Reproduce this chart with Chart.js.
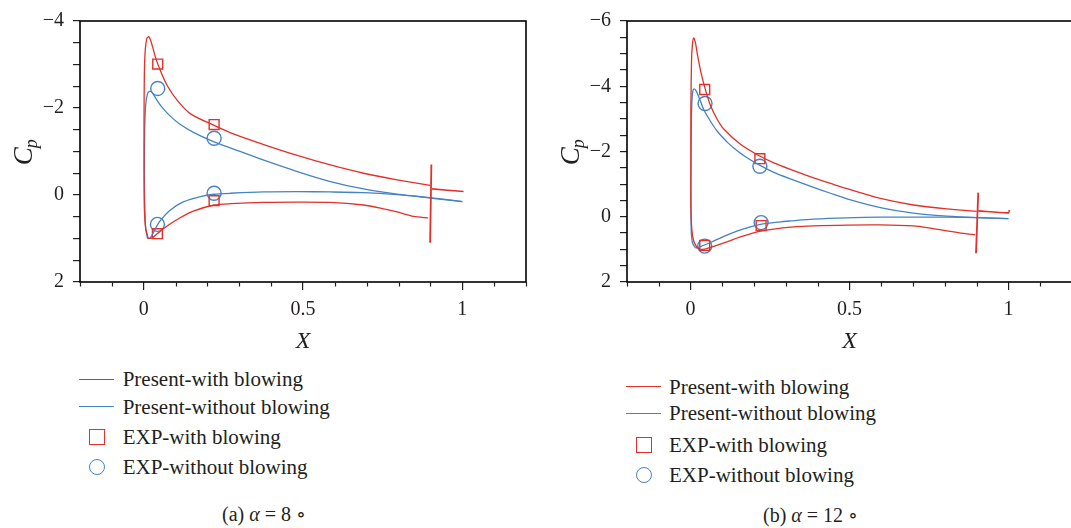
<!DOCTYPE html>
<html>
<head>
<meta charset="utf-8">
<script src="https://cdn.jsdelivr.net/npm/chart.js@4/dist/chart.umd.min.js"></script>
<style>
  body { margin: 0; width: 1071px; height: 528px; overflow: hidden; position: relative; background: #fff; font-family: "Liberation Serif", "DejaVu Serif", serif; color: #231f20; }
  canvas { position: absolute; top: 0; }
  .txt { position: absolute; white-space: nowrap; font-size: 21px; line-height: 20px; }
  .cap { position: absolute; white-space: nowrap; font-size: 20px; line-height: 20px; }
  .sym { position: absolute; box-sizing: border-box; }
</style>
</head>
<body>
<canvas id="chart8" width="540" height="360" style="left:0"></canvas>
<canvas id="chart12" width="560" height="360" style="left:530px"></canvas>

<script>
// ---- data (alpha = 8) ----
const a8BlowUpper = [[0.014,1.0],[0.006,0.75],[0.002,0.3],[0.001,-0.6],[0.001,-1.7],[0.002,-2.8],[0.005,-3.35],[0.010,-3.6],[0.016,-3.64],[0.022,-3.55],[0.028,-3.40],[0.038,-3.14],[0.054,-2.83],[0.075,-2.5],[0.106,-2.17],[0.148,-1.86],[0.221,-1.60],[0.273,-1.43],[0.377,-1.16],[0.482,-0.91],[0.586,-0.69],[0.690,-0.50],[0.795,-0.35],[0.899,-0.22]]
const a8BlowLower = [[0.014,1.0],[0.025,0.99],[0.044,0.88],[0.070,0.73],[0.113,0.53],[0.156,0.37],[0.221,0.23],[0.273,0.20],[0.377,0.17],[0.482,0.163],[0.586,0.17],[0.690,0.23],[0.743,0.30],[0.795,0.39],[0.847,0.49],[0.893,0.527]]
const a8BlowTail = [[0.905,-0.14],[1.004,-0.08]]
const a8BlowSlot = [[0.903,-0.70],[0.899,1.10]]
const a8NoBlowUpper = [[0.012,1.0],[0.006,0.76],[0.003,0.17],[0.002,-0.58],[0.003,-1.47],[0.006,-2.06],[0.012,-2.33],[0.019,-2.38],[0.027,-2.35],[0.038,-2.22],[0.054,-2.05],[0.081,-1.83],[0.113,-1.63],[0.156,-1.44],[0.221,-1.22],[0.273,-1.08],[0.377,-0.80],[0.482,-0.54],[0.586,-0.31],[0.690,-0.14],[0.795,-0.02],[0.899,0.07],[1.0,0.15]]
const a8NoBlowLower = [[0.012,1.0],[0.020,0.99],[0.032,0.84],[0.049,0.62],[0.081,0.36],[0.124,0.16],[0.178,0.035],[0.221,-0.017],[0.273,-0.04],[0.377,-0.07],[0.482,-0.078],[0.586,-0.07],[0.690,-0.054],[0.795,-0.01],[0.899,0.058],[1.0,0.15]]
const a8ExpBlow = [[0.044,-3.01],[0.221,-1.62],[0.221,0.13],[0.043,0.89]]
const a8ExpNoBlow = [[0.044,-2.45],[0.221,-1.305],[0.221,-0.04],[0.043,0.675]]

// ---- data (alpha = 12) ----
const a12BlowUpper = [[0.022,0.97],[0.010,0.75],[0.004,0.4],[0.001,-0.4],[0.001,-1.8],[0.001,-3.3],[0.003,-4.8],[0.006,-5.3],[0.010,-5.48],[0.015,-5.35],[0.021,-5.0],[0.032,-4.45],[0.048,-3.85],[0.063,-3.40],[0.084,-2.98],[0.105,-2.68],[0.157,-2.22],[0.210,-1.90],[0.262,-1.65],[0.314,-1.45],[0.387,-1.19],[0.45,-0.99],[0.492,-0.86],[0.597,-0.56],[0.701,-0.36],[0.806,-0.24],[0.900,-0.165]]
const a12BlowLower = [[0.022,0.97],[0.032,1.0],[0.045,0.99],[0.063,0.94],[0.105,0.80],[0.157,0.62],[0.220,0.44],[0.283,0.35],[0.314,0.32],[0.387,0.28],[0.492,0.255],[0.597,0.25],[0.701,0.28],[0.75,0.34],[0.806,0.43],[0.86,0.51],[0.895,0.55]]
const a12BlowTail = [[0.905,-0.18],[1.0,-0.12],[1.003,-0.21]]
const a12BlowSlot = [[0.905,-0.74],[0.898,1.12]]
const a12NoBlowUpper = [[0.015,0.95],[0.006,0.8],[0.002,0.4],[0.001,-1.0],[0.002,-2.5],[0.004,-3.5],[0.007,-3.85],[0.011,-3.92],[0.018,-3.85],[0.030,-3.57],[0.042,-3.27],[0.063,-2.92],[0.084,-2.62],[0.116,-2.28],[0.137,-2.10],[0.168,-1.87],[0.210,-1.62],[0.262,-1.36],[0.314,-1.16],[0.387,-0.90],[0.44,-0.72],[0.492,-0.55],[0.597,-0.28],[0.701,-0.11],[0.806,-0.02],[0.900,0.026],[1.0,0.055]]
const a12NoBlowLower = [[0.015,0.95],[0.022,0.95],[0.035,0.9],[0.063,0.79],[0.105,0.60],[0.157,0.40],[0.220,0.234],[0.283,0.154],[0.314,0.128],[0.387,0.074],[0.492,0.034],[0.597,0.014],[0.701,0.012],[0.806,0.014],[0.900,0.026],[1.0,0.055]]
const a12ExpBlow = [[0.0445,-3.9],[0.218,-1.78],[0.222,0.27],[0.0445,0.88]]
const a12ExpNoBlow = [[0.0455,-3.47],[0.218,-1.55],[0.222,0.18],[0.0445,0.90]]

// ---- axes / labels ----
const xLabelTicks = [0, 0.5, 1]
const yLabelTicks8 = [-4, -2, 0, 2]
const yLabelTicks12 = [-6, -4, -2, 0, 2]
const legendLabels = ["Present-with blowing", "Present-without blowing", "EXP-with blowing", "EXP-without blowing"]

const RED = '#e2302a'
const BLUE = '#4583c4'
const INK = '#231f20'
const SERIF = '"Liberation Serif", "DejaVu Serif", serif'

function toXY(arr) {
  return arr.map(p => ({x: p[0], y: p[1]}))
}

function line(arr, color, w) {
  return {data: toXY(arr), showLine: true, borderColor: color, borderWidth: w || 1.3,
    pointRadius: 0, tension: 0.25, fill: false}
}

function marks(arr, color, style) {
  return {data: toXY(arr), showLine: false, pointStyle: style, pointRadius: 7,
    pointBorderColor: color, pointBackgroundColor: 'rgba(0,0,0,0)', pointBorderWidth: 1.4}
}

function isMajorX(v) {
  return xLabelTicks.some(t => Math.abs(t - v) < 1e-6)
}

function minusFmt(v) {
  return v < 0 ? '\u2212' + Math.abs(v) : String(v)
}

// frame, minor x ticks and axis titles
const framePlugin = {
  id: 'frame',
  afterDraw(chart) {
    const ctx = chart.ctx
    const a = chart.chartArea
    const xs = chart.scales.x
    ctx.save()
    ctx.strokeStyle = '#000'
    ctx.lineWidth = 1.6
    ctx.strokeRect(a.left, a.top, a.right - a.left, a.bottom - a.top)

    ctx.lineWidth = 1.2
    ctx.strokeStyle = INK
    xs.ticks.forEach(t => {
      if (isMajorX(t.value)) return
      const px = Math.round(xs.getPixelForValue(t.value)) + 0.5
      ctx.beginPath()
      ctx.moveTo(px, a.bottom)
      ctx.lineTo(px, a.bottom + 4.5)
      ctx.stroke()
    })

    ctx.fillStyle = INK
    ctx.textAlign = 'center'
    ctx.textBaseline = 'middle'
    ctx.font = 'italic 24px ' + SERIF
    ctx.fillText('X', (a.left + a.right) / 2, a.bottom + 60)

    ctx.translate(a.left - 57, (a.top + a.bottom) / 2)
    ctx.rotate(-Math.PI / 2)
    ctx.textAlign = 'left'
    ctx.textBaseline = 'alphabetic'
    ctx.font = 'italic 27px ' + SERIF
    const cw = ctx.measureText('C').width
    const pw = ctx.measureText('p').width * 0.7
    const x0 = -(cw + pw) / 2
    ctx.fillText('C', x0, 9)
    ctx.font = 'italic 18px ' + SERIF
    ctx.fillText('p', x0 + cw - 1, 14)
    ctx.restore()
  }
}

function makeChart(id, sets, yMin, yMax, yLabels, yWidth, padRight) {
  const datasets = [
    line(sets.blowUpper, RED), line(sets.blowLower, RED), line(sets.blowTail, RED, 1.6), line(sets.blowSlot, RED, 1.8),
    line(sets.noBlowUpper, BLUE), line(sets.noBlowLower, BLUE),
    marks(sets.expBlow, RED, 'rect'), marks(sets.expNoBlow, BLUE, 'circle')
  ]
  return new Chart(document.getElementById(id), {
    type: 'scatter',
    data: {datasets: datasets},
    plugins: [framePlugin],
    options: {
      responsive: false,
      animation: false,
      devicePixelRatio: 1,
      layout: {padding: {top: 13, right: padRight, bottom: 0, left: 0}},
      plugins: {legend: {display: false}, tooltip: {enabled: false}},
      scales: {
        x: {
          type: 'linear', min: -0.2, max: 1.2,
          border: {display: false},
          grid: {drawOnChartArea: false, tickLength: 8, lineWidth: 1.2,
            color: c => (c.tick && isMajorX(c.tick.value)) ? INK : 'rgba(0,0,0,0)'},
          ticks: {stepSize: 0.1, autoSkip: false, maxRotation: 0, padding: 8, color: INK,
            font: {family: SERIF, size: 20},
            callback: v => isMajorX(v) ? String(Math.round(v * 10) / 10) : ''},
          afterFit: s => { s.height = 78 }
        },
        y: {
          type: 'linear', min: yMin, max: yMax, reverse: true,
          border: {display: false},
          grid: {drawOnChartArea: false, tickLength: 7, lineWidth: 1.2, color: INK},
          ticks: {stepSize: 0.5, autoSkip: false, padding: 9, color: INK,
            font: {family: SERIF, size: 20},
            callback: v => yLabels.includes(v) ? minusFmt(v) : ''},
          afterFit: s => { s.width = yWidth }
        }
      }
    }
  })
}

makeChart('chart8', {
  blowUpper: a8BlowUpper, blowLower: a8BlowLower, blowTail: a8BlowTail, blowSlot: a8BlowSlot,
  noBlowUpper: a8NoBlowUpper, noBlowLower: a8NoBlowLower, expBlow: a8ExpBlow, expNoBlow: a8ExpNoBlow
}, -4, 2, yLabelTicks8, 80, 14)

makeChart('chart12', {
  blowUpper: a12BlowUpper, blowLower: a12BlowLower, blowTail: a12BlowTail, blowSlot: a12BlowSlot,
  noBlowUpper: a12NoBlowUpper, noBlowLower: a12NoBlowLower, expBlow: a12ExpBlow, expNoBlow: a12ExpNoBlow
}, -6, 2, yLabelTicks12, 97, 18)

// ---- legends and captions (html) ----
function addLegend(lineLeft, symCenter, textLeft, rows) {
  const styles = ['line', 'line', 'rect', 'circle']
  const colors = [RED, BLUE, RED, BLUE]
  rows.forEach((y, i) => {
    const s = document.createElement('div')
    s.className = 'sym'
    if (styles[i] === 'line') {
      s.style.left = lineLeft + 'px'
      s.style.top = (y - 0.7) + 'px'
      s.style.width = '35px'
      s.style.height = '1.4px'
      s.style.background = colors[i]
    } else {
      s.style.left = (symCenter - 8) + 'px'
      s.style.top = (y - 8) + 'px'
      s.style.width = '16px'
      s.style.height = '16px'
      s.style.border = '1.5px solid ' + colors[i]
      if (styles[i] === 'circle') s.style.borderRadius = '50%'
    }
    document.body.appendChild(s)

    const t = document.createElement('div')
    t.className = 'txt'
    t.style.left = textLeft + 'px'
    t.style.top = (y - 10) + 'px'
    t.textContent = legendLabels[i]
    document.body.appendChild(t)
  })
}

function addCaption(left, y, letter, angle) {
  const c = document.createElement('div')
  c.className = 'cap'
  c.style.left = left + 'px'
  c.style.top = (y - 10) + 'px'
  c.innerHTML = '(' + letter + ') <i>\u03b1</i> = ' + angle + ' \u2218'
  document.body.appendChild(c)
}

addLegend(79, 96.7, 122.7, [379.3, 406.7, 437.3, 467.3])
addLegend(626, 644, 669, [386.7, 413.3, 445, 475])
addCaption(222, 514, 'a', 8)
addCaption(763, 515, 'b', 12)
</script>
</body>
</html>
